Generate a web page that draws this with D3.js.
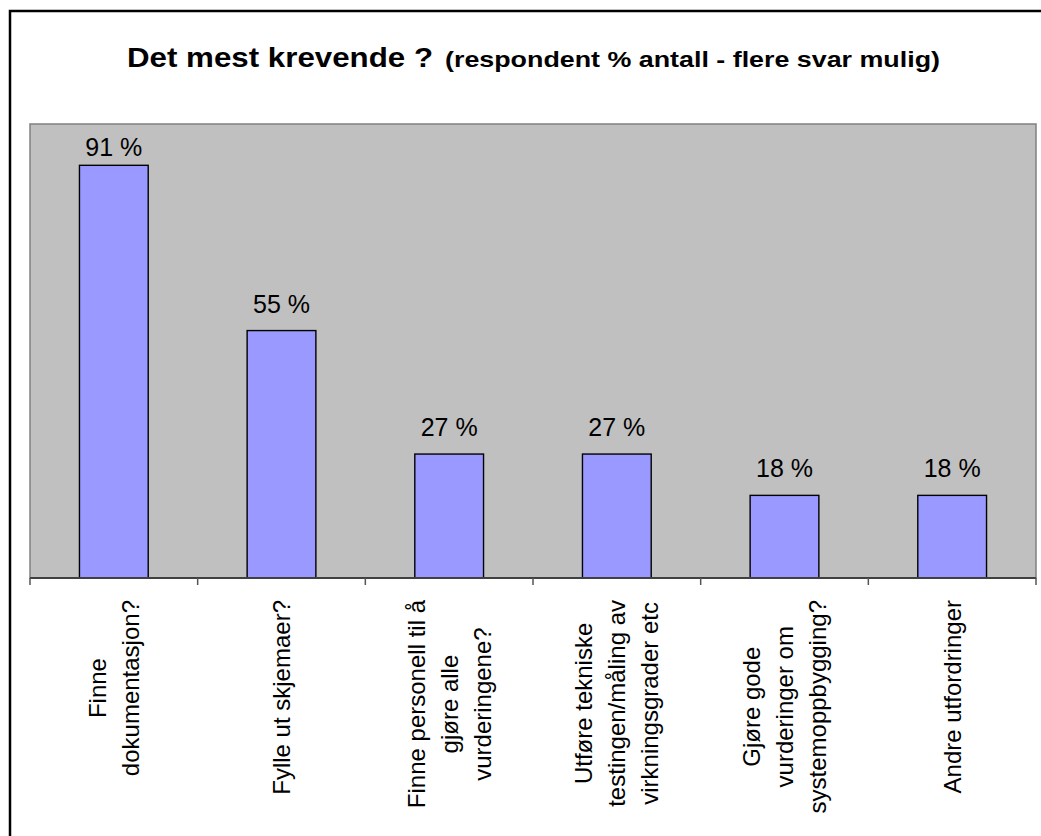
<!DOCTYPE html>
<html>
<head>
<meta charset="utf-8">
<script src="https://cdn.jsdelivr.net/npm/d3@7"></script>
<style>
	body { margin: 0; background: #fff; }
	svg { display: block; font-family: Arial, "Liberation Sans", sans-serif; }
</style>
</head>
<body>
<div id="chart"></div>
<script>
// survey: share of respondents (11 svar) per challenge
var categories = [
	["Finne", "dokumentasjon?"],
	["Fylle ut skjemaer?"],
	["Finne personell til å", "gjøre alle", "vurderingene?"],
	["Utføre tekniske", "testingen/måling av", "virkningsgrader etc"],
	["Gjøre gode", "vurderinger om", "systemoppbygging?"],
	["Andre utfordringer"]
];
var values = [90.9, 54.5, 27.3, 27.3, 18.2, 18.2];
var titleMain = "Det mest krevende ?";
var titleSub = "(respondent % antall  - flere svar mulig)";

var width = 1041, height = 836;
var plot = { left: 30, right: 1036, top: 124, bottom: 578 };

var svg = d3.select("#chart")
	.append("svg")
		.attr("width", width)
		.attr("height", height);

// outer frame (runs off the right/bottom edge in the original)
svg.append("rect")
	.attr("x", 10)
	.attr("y", 11)
	.attr("width", 1200)
	.attr("height", 1000)
	.attr("fill", "none")
	.attr("stroke", "#000")
	.attr("stroke-width", 2.5);

// title
var cx = (plot.left + plot.right) / 2;
svg.append("text")
	.attr("x", cx - 406)
	.attr("y", 67)
	.attr("font-size", 27)
	.attr("font-weight", "bold")
	.attr("textLength", 306)
	.attr("lengthAdjust", "spacingAndGlyphs")
	.text(titleMain);
svg.append("text")
	.attr("x", cx - 88)
	.attr("y", 67)
	.attr("font-size", 22)
	.attr("font-weight", "bold")
	.attr("textLength", 495)
	.attr("lengthAdjust", "spacingAndGlyphs")
	.text(titleSub);

var x = d3.scaleBand()
	.domain(d3.range(categories.length))
	.range([plot.left, plot.right])
	.paddingInner(0.59)
	.paddingOuter(0.295);

var y = d3.scaleLinear()
	.domain([0, 100])
	.range([plot.bottom, plot.top]);

// plot area
svg.append("rect")
	.attr("x", plot.left)
	.attr("y", plot.top)
	.attr("width", plot.right - plot.left)
	.attr("height", plot.bottom - plot.top)
	.attr("fill", "#c0c0c0")
	.attr("stroke", "#808080")
	.attr("stroke-width", 1.5);

svg.selectAll("rect.bar")
	.data(values)
	.enter().append("rect")
		.attr("class", "bar")
		.attr("x", function(d, i) { return x(i); })
		.attr("y", function(d) { return y(d); })
		.attr("width", x.bandwidth())
		.attr("height", function(d) { return y(0) - y(d); })
		.attr("fill", "#9999ff")
		.attr("stroke", "#000")
		.attr("stroke-width", 1.4);

var fmt = d3.format(".0f");
svg.selectAll("text.val")
	.data(values)
	.enter().append("text")
		.attr("class", "val")
		.attr("x", function(d, i) { return x(i) + x.bandwidth() / 2; })
		.attr("y", function(d) { return Math.max(y(d) - 18, plot.top + 32); })
		.attr("text-anchor", "middle")
		.attr("font-size", 25)
		.text(function(d) { return fmt(d) + " %"; });

// category axis: line + ticks on the band edges
var step = x.step();
var edges = d3.range(categories.length + 1).map(function(i) { return plot.left + i * step; });

var axis = svg.append("g")
	.attr("transform", "translate(0," + plot.bottom + ")");
axis.append("line")
	.attr("x1", plot.left)
	.attr("x2", plot.right)
	.attr("stroke", "#404040")
	.attr("stroke-width", 2);
axis.selectAll("line.tick")
	.data(edges)
	.enter().append("line")
		.attr("class", "tick")
		.attr("x1", function(d) { return d; })
		.attr("x2", function(d) { return d; })
		.attr("y1", 0)
		.attr("y2", 7)
		.attr("stroke", "#555")
		.attr("stroke-width", 1.5);

// rotated labels, top aligned under the axis, lines centred in the block
var lineH = 33;
var labels = axis.selectAll("g.lbl")
	.data(categories)
	.enter().append("g")
		.attr("class", "lbl")
		.attr("transform", function(d, i) {
			return "translate(" + (x(i) + x.bandwidth() / 2) + ",22) rotate(-90)";
		});

labels.each(function(lines) {
	var g = d3.select(this);
	var t = g.append("text")
		.attr("text-anchor", "middle")
		.attr("font-size", 24);
	var n = lines.length;
	var spans = t.selectAll("tspan")
		.data(lines)
		.enter().append("tspan")
			.attr("y", function(d, j) { return (j - (n - 1) / 2) * lineH; })
			.attr("dy", "0.35em")
			.text(function(d) { return d; });
	var maxW = 0;
	spans.each(function() { maxW = Math.max(maxW, this.getComputedTextLength()); });
	spans.attr("x", -maxW / 2);
});
</script>
</body>
</html>
